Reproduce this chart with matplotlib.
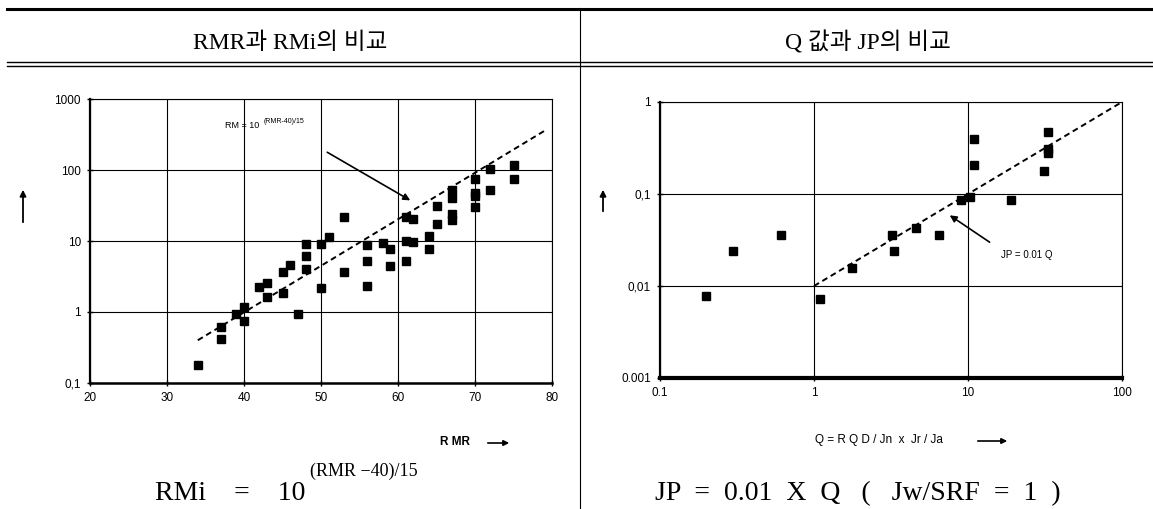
import numpy as np
import matplotlib.pyplot as plt
from matplotlib.lines import Line2D
from matplotlib.patches import FancyArrowPatch
from matplotlib.ticker import FixedLocator, NullLocator

# RMR vs RMi points
rmr = [34, 37, 37, 39, 40, 40, 42, 43, 43, 45, 45, 46, 47, 48, 48, 48, 50, 50, 51,
       53, 53, 56, 56, 56, 58, 59, 59, 61, 61, 61, 62, 62, 64, 64, 65, 65,
       67, 67, 67, 67, 70, 70, 70, 70, 72, 72, 75, 75]
rmi = [0.18, 0.62, 0.41, 0.93, 1.16, 0.75, 2.23, 2.54, 1.62, 1.84, 3.7, 4.6, 0.93, 9.1, 6.2, 4.0, 9.1, 2.2, 11.5,
       22, 3.7, 8.8, 5.2, 2.36, 9.3, 7.6, 4.5, 22, 10, 5.2, 20.6, 9.6, 11.9, 7.6, 31, 17.3,
       52, 40, 23.7, 20, 75, 48, 43, 30, 103, 52, 117, 75]
rmr_line = [34, 79]
rmi_line = [0.4, 355]

# Q vs JP points
q = [0.2, 0.3, 0.61, 1.1, 1.76, 3.23, 3.3, 4.58, 6.5, 9.0, 10.3, 11, 11, 19, 31, 33, 33, 33]
jp = [0.0077, 0.0242, 0.036, 0.0073, 0.0156, 0.036, 0.024, 0.0427, 0.036, 0.087, 0.092,
      0.40, 0.205, 0.085, 0.178, 0.47, 0.31, 0.28]
q_line = [1, 100]
jp_line = [0.01, 1]

W, H = 1153, 509
fig = plt.figure(figsize=(W / 100, H / 100), dpi=100)

def fx(x):
    return x / W

def fy(y):
    return 1 - y / H

serif = ['Liberation Serif', 'Noto Sans CJK KR']
sans = 'Liberation Sans'

# table lines
fig.add_artist(Line2D([fx(7), 1], [fy(8.5), fy(8.5)], color='k', lw=2.2))
fig.add_artist(Line2D([fx(7), 1], [fy(62.5), fy(62.5)], color='k', lw=1.0))
fig.add_artist(Line2D([fx(7), 1], [fy(65.5), fy(65.5)], color='k', lw=1.0))
fig.add_artist(Line2D([fx(580), fx(580)], [fy(8), 0], color='k', lw=0.8))

fig.text(fx(290), fy(43), "RMR과 RMi의 비교", family=serif, fontsize=17, ha='center', va='center')
fig.text(fx(868), fy(43), "Q 값과 JP의 비교", family=serif, fontsize=17, ha='center', va='center')


def style(ax, bottom_lw):
    for s in ax.spines.values():
        s.set_linewidth(0.8)
    ax.spines['left'].set_linewidth(1.6)
    ax.spines['bottom'].set_linewidth(bottom_lw)
    ax.grid(True, which='major', color='k', lw=0.8)
    ax.tick_params(which='major', direction='inout', length=5, width=1, labelsize=8.5, pad=4)
    ax.tick_params(which='minor', length=0)
    for lab in ax.get_xticklabels() + ax.get_yticklabels():
        lab.set_family(sans)


# left chart
ax1 = fig.add_axes([fx(90), fy(383), fx(552) - fx(90), fy(99) - fy(383)])
ax1.set_yscale('log')
ax1.set_xlim(20, 80)
ax1.set_ylim(0.1, 1000)
ax1.plot(rmr_line, rmi_line, color='k', ls=(0, (3, 2)), lw=1.4)
ax1.plot(rmr, rmi, 's', color='k', ms=5.5)
ax1.set_xticks([20, 30, 40, 50, 60, 70, 80])
ax1.yaxis.set_major_locator(FixedLocator([0.1, 1, 10, 100, 1000]))
ax1.yaxis.set_minor_locator(NullLocator())
ax1.set_yticklabels(['0,1', '1', '10', '100', '1000'])
style(ax1, 1.8)
ax1.annotate('', xy=(61.9, 35.7), xytext=(50.5, 186),
             arrowprops=dict(arrowstyle='-|>', color='k', lw=1.2, mutation_scale=10))
ax1.text(37.5, 430, 'RM = 10', fontsize=6.5, family=sans, va='center')
ax1.text(42.6, 480, '(RMR-40)/15', fontsize=5, family=sans, va='center')

# right chart
ax2 = fig.add_axes([fx(660), fy(378), fx(1122) - fx(660), fy(102) - fy(378)])
ax2.set_xscale('log')
ax2.set_yscale('log')
ax2.set_xlim(0.1, 100)
ax2.set_ylim(0.001, 1)
ax2.plot(q_line, jp_line, color='k', ls=(0, (3, 2)), lw=1.4)
ax2.plot(q, jp, 's', color='k', ms=5.5)
ax2.xaxis.set_major_locator(FixedLocator([0.1, 1, 10, 100]))
ax2.xaxis.set_minor_locator(NullLocator())
ax2.set_xticklabels(['0.1', '1', '10', '100'])
ax2.yaxis.set_major_locator(FixedLocator([0.001, 0.01, 0.1, 1]))
ax2.yaxis.set_minor_locator(NullLocator())
ax2.set_yticklabels(['0.001', '0,01', '0,1', '1'])
style(ax2, 3.0)
ax2.annotate('', xy=(7.35, 0.061), xytext=(14.3, 0.0288),
             arrowprops=dict(arrowstyle='-|>', color='k', lw=1.2, mutation_scale=10))
ax2.text(16.4, 0.0216, 'JP = 0.01 Q', fontsize=7, family=sans, va='center')

# y-axis arrows
for x, y0, y1 in [(23, 225, 187), (603, 214, 187)]:
    fig.add_artist(FancyArrowPatch(
        (fx(x), fy(y0)), (fx(x), fy(y1)), transform=fig.transFigure,
        arrowstyle='-|>', mutation_scale=9, lw=1.3, color='k'))

# x labels with arrows
fig.text(fx(440), fy(442), 'R MR', fontsize=8.5, family=sans, weight='bold', va='center')
fig.add_artist(FancyArrowPatch(
    (fx(485), fy(443)), (fx(512), fy(443)), transform=fig.transFigure,
    arrowstyle='-|>', mutation_scale=8, lw=1.2, color='k'))
fig.text(fx(815), fy(440), 'Q = R Q D / Jn  x  Jr / Ja', fontsize=8.5, family=sans, va='center')
fig.add_artist(FancyArrowPatch(
    (fx(975), fy(441)), (fx(1010), fy(441)), transform=fig.transFigure,
    arrowstyle='-|>', mutation_scale=8, lw=1.2, color='k'))

# formulas under the charts
fig.text(fx(155), fy(500), 'RMi    =    10', fontsize=20, family=serif, va='baseline')
fig.text(fx(310), fy(476), '(RMR \u221240)/15', fontsize=13, family=serif, va='baseline')
fig.text(fx(655), fy(500), 'JP  =  0.01  X  Q   (   Jw/SRF  =  1  )', fontsize=20, family=serif, va='baseline')

fig.savefig('out.png', dpi=100)
